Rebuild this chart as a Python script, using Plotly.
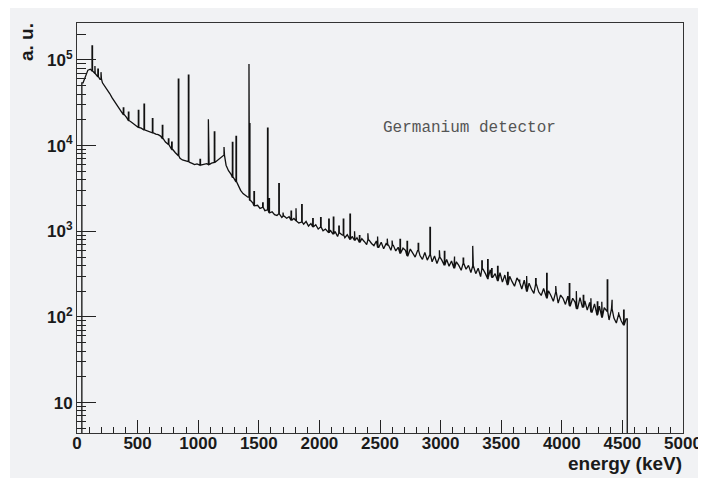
import plotly.graph_objects as go

# ---- data ----
BIN_START = 40          # keV, lower edge of first bin
BIN_WIDTH = 20          # keV
continuum = [
    54000, 66000, 76000, 78000, 74000, 69500, 64000, 59500, 54000, 49500,
    45000, 40500, 36000, 32500, 29500, 26800, 24500, 23000, 21200, 19600,
    18700, 17800, 17100, 16300, 16000, 15300, 15000, 14700, 14300, 14100,
    13600, 13400, 12900, 12100, 11000, 10300, 9700, 9000, 8300, 7600,
    7100, 6800, 6650, 6500, 6350, 6200, 6000, 6100, 5900, 5950,
    6000, 6150, 6000, 6250, 6350, 6600, 6900, 7300, 7700, 5900,
    5100, 4650, 4250, 3800, 3400, 3000, 2750, 2600, 2500, 2300,
    2150, 1980, 2010, 1850, 1900, 1740, 1780, 1640, 1690, 1560,
    1530, 1600, 1450, 1500, 1420, 1480, 1340, 1410, 1320, 1250,
    1280, 1210, 1300, 1150, 1230, 1120, 1190, 1060, 1120, 1010,
    1060, 960, 1030, 930, 990, 870, 950, 900, 840, 910,
    800, 870, 780, 840, 740, 820, 760, 700, 790, 720,
    680, 770, 650, 745, 625, 715, 690, 600, 685, 590,
    650, 550, 635, 600, 515, 620, 545, 500, 595, 520,
    470, 565, 460, 535, 440, 515, 420, 500, 460, 400,
    470, 390, 450, 370, 440, 400, 350, 425, 360, 400,
    330, 395, 320, 370, 295, 360, 320, 280, 355, 290,
    320, 262, 328, 255, 308, 238, 298, 258, 228, 285,
    258, 212, 268, 198, 248, 210, 188, 242, 195, 178,
    215, 165, 202, 178, 152, 196, 145, 180, 165, 140,
    175, 135, 165, 148, 125, 168, 130, 154, 120, 148,
    114, 142, 106, 134, 98, 128, 115, 92, 124, 97,
    85, 108, 90, 80, 95,
]
peak_energy = [124, 148, 172, 198, 382, 424, 506, 553, 622, 704, 754, 781,
               836, 919, 1015, 1084, 1133, 1213, 1282, 1312, 1419, 1423,
               1460, 1532, 1572, 1584, 1665, 1700, 1766, 1807, 1854, 1945,
               2010, 2077, 2115, 2160, 2197, 2252, 2290, 2330, 2400, 2480,
               2560, 2600, 2665, 2723, 2815, 2912, 2990, 3031, 3111, 3186,
               3265, 3340, 3388, 3421, 3470, 3553, 3649, 3710, 3784, 3875,
               3950, 4062, 4120, 4177, 4240, 4293, 4330, 4375, 4411, 4469,
               4510]
peak_height = [146000, 85000, 78000, 72000, 27500, 24500, 25800, 30400, 20600,
               17200, 12000, 11000, 59700, 66600, 6900, 20300, 14400, 9600,
               10900, 12800, 89700, 18000, 2900, 2140, 16000, 2400, 3600, 1650,
               1720, 1860, 2040, 1400, 1440, 1380, 1460, 1150, 1380, 1580,
               1000, 890, 946, 870, 820, 780, 805, 760, 720, 1110, 600, 582,
               508, 485, 675, 450, 465, 365, 390, 330, 268, 300, 280, 323,
               230, 245, 200, 178, 165, 150, 150, 270, 159, 113, 120]
PEAK_WIDTH = 4          # keV
EMPTY = 1               # value used for empty bins (below the visible range)

x_tickvals = list(range(0, 5001, 500))
y_tickvals = [10, 100, 1000, 10000, 100000]
y_ticktext = ["10", "10<sup>2</sup>", "10<sup>3</sup>", "10<sup>4</sup>", "10<sup>5</sup>"]

# ---- build histogram outline (bin centres joined, peaks as narrow spikes) ----
peaks = sorted(zip(peak_energy, peak_height))
xs = [BIN_START, BIN_START]
ys = [EMPTY, continuum[0]]
for i, c in enumerate(continuum):
    lo = BIN_START + i * BIN_WIDTH
    hi = lo + BIN_WIDTH
    events = [(lo + BIN_WIDTH / 2, None)] + [(e, h) for e, h in peaks if lo <= e < hi]
    for e, h in sorted(events, key=lambda t: t[0]):
        if h is None:
            xs.append(e); ys.append(c)
        else:
            xs += [e, e, e + PEAK_WIDTH, e + PEAK_WIDTH]
            ys += [c, h, h, c]
end = BIN_START + len(continuum) * BIN_WIDTH
xs += [end, end, end + 50]
ys += [continuum[-1], EMPTY, EMPTY]

fig = go.Figure()
fig.add_trace(go.Scatter(x=xs, y=ys, mode="lines", line=dict(color="#111111", width=1.3),
                         hoverinfo="skip", showlegend=False))

# the page body adds an 8 px offset; figure coordinates = page coordinates - 8
OFF = 8
BG = "#f1f2f4"
W, H = 706 - OFF, 478 - OFF
L, R, T, B = 77 - OFF, 706 - 683, 23 - OFF, 478 - 433
pw, ph = W - L - R, H - T - B

def px(xp):   # page x -> paper x
    return (xp - OFF - L) / pw

def py(yp):   # page y -> paper y
    return (H - B - (yp - OFF)) / ph

fig.add_shape(type="rect", xref="paper", yref="paper",
              x0=px(10), x1=px(720), y0=py(500), y1=py(8),
              fillcolor=BG, line=dict(width=0), layer="below")

tickfont = dict(family="Liberation Sans, Arial, sans-serif", size=17, color="#1a1a1a", weight="bold")

fig.update_layout(
    width=W, height=H,
    margin=dict(l=L, r=R, t=T, b=B),
    paper_bgcolor="white", plot_bgcolor=BG,
    xaxis=dict(range=[0, 5000], tickmode="array", tickvals=x_tickvals, automargin=False,
               ticks="inside", ticklen=13, tickwidth=1, tickcolor="#222",
               ticklabelstandoff=-5,
               minor=dict(ticks="inside", ticklen=6, dtick=100, tickcolor="#222", showgrid=False),
               showline=True, linecolor="#333", linewidth=1, mirror=True,
               showgrid=False, zeroline=False, tickfont=tickfont),
    yaxis=dict(type="log", range=[0.645, 5.431], tickmode="array", tickvals=y_tickvals,
               ticktext=y_ticktext, automargin=False,
               ticks="inside", ticklen=19, tickwidth=1, tickcolor="#222",
               minor=dict(ticks="inside", ticklen=9, tickcolor="#222", showgrid=False,
                          tickmode="array",
                          tickvals=[m * 10 ** k for k in range(0, 6) for m in range(2, 10)]),
               showline=True, linecolor="#333", linewidth=1, mirror=True,
               showgrid=False, zeroline=False, tickfont=tickfont),
    annotations=[
        dict(text="a. u.", textangle=-90, xref="paper", yref="paper",
             x=px(26), y=py(21), xanchor="center", yanchor="top",
             showarrow=False,
             font=dict(family="Liberation Sans, Arial, sans-serif", size=19, color="#1a1a1a", weight="bold")),
        dict(text="energy (keV)", xref="paper", yref="paper",
             x=px(684), y=py(463), xanchor="right", yanchor="middle",
             showarrow=False,
             font=dict(family="Liberation Sans, Arial, sans-serif", size=19, color="#1a1a1a", weight="bold")),
        dict(text="Germanium detector", xref="paper", yref="paper",
             x=px(381), y=py(128), xanchor="left", yanchor="middle",
             showarrow=False,
             font=dict(family="Liberation Mono, Courier New, monospace", size=16, color="#555555")),
    ],
)

fig.write_html("out.html")
